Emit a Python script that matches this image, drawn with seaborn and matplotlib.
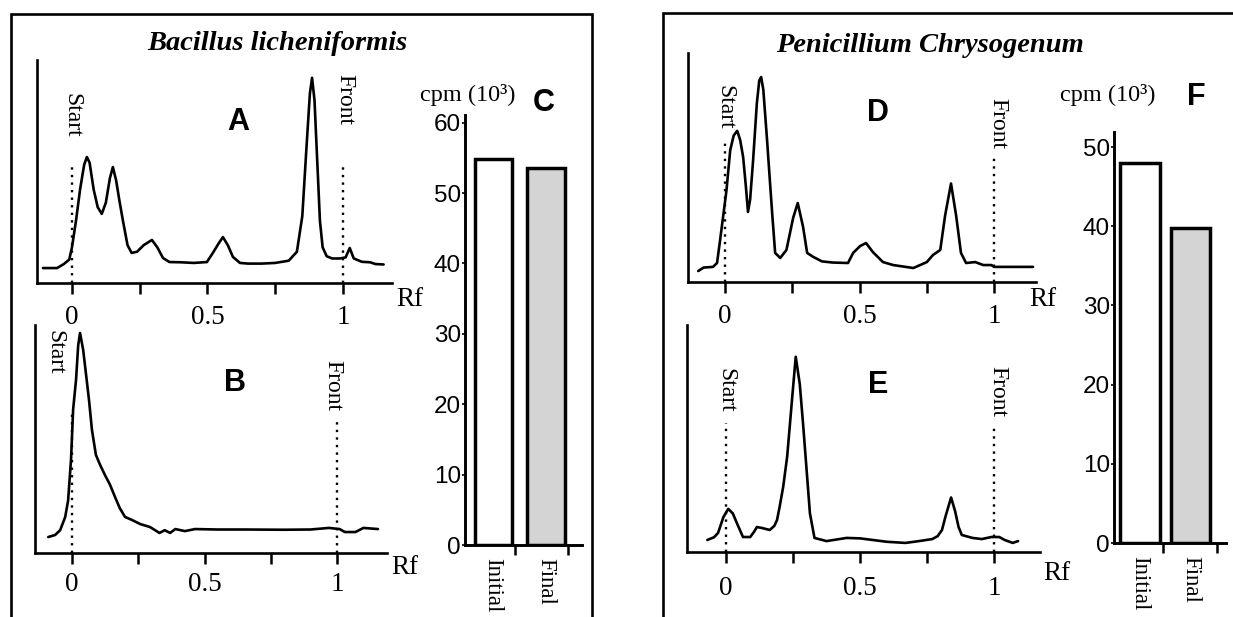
import numpy as np
import pandas as pd
import matplotlib
matplotlib.use("Agg")
import matplotlib.pyplot as plt
from matplotlib.patches import Rectangle
import seaborn as sns

# %% data (Rf vs relative counts, 0-100 per panel)
rf_a = [-0.107, -0.055, -0.03, -0.01, 0.0, 0.015, 0.03, 0.045, 0.055, 0.065, 0.08, 0.095, 0.11,
        0.125, 0.14, 0.151, 0.163, 0.175, 0.188, 0.205, 0.22, 0.24, 0.265, 0.295, 0.315, 0.336,
        0.36, 0.4, 0.45, 0.498, 0.52, 0.54, 0.557, 0.575, 0.594, 0.62, 0.65, 0.7, 0.75, 0.8,
        0.83, 0.85, 0.865, 0.878, 0.886, 0.895, 0.905, 0.915, 0.925, 0.94, 0.96, 0.99, 1.01,
        1.025, 1.04, 1.07, 1.1, 1.12, 1.15]
cnt_a = [6.7, 6.7, 8.5, 10.5, 16, 28, 42, 53, 56.5, 54, 42, 34, 31,
         36, 47, 52, 46, 37, 28, 17, 13.5, 14, 17, 19.3, 16, 11.2,
         9.4, 9.3, 9.0, 9.4, 13.5, 17.5, 20.6, 17, 11.7, 9.0, 8.7, 8.7, 9.0, 10,
         14, 30, 60, 85, 92, 82, 55, 28, 16, 12, 11, 11, 11.5,
         15.7, 11, 9.5, 9.3, 8.5, 8.3]

rf_b = [-0.09, -0.064, -0.045, -0.026, -0.015, -0.004, 0.004, 0.015, 0.023, 0.03, 0.042, 0.053,
        0.064, 0.075, 0.09, 0.106, 0.125, 0.143, 0.162, 0.18, 0.2, 0.226, 0.257, 0.294, 0.33,
        0.35, 0.37, 0.39, 0.426, 0.464, 0.55, 0.65, 0.8, 0.9, 0.97, 1.01, 1.03, 1.07, 1.1, 1.155]
cnt_b = [7, 7.9, 10, 15.8, 23, 41, 63, 76, 91, 96.5, 89, 78,
         67, 54, 43, 38.6, 34, 30, 24.6, 19.7, 15.8, 14.5, 12.7, 11.4, 8.8,
         10, 8.8, 10.5, 9.6, 10.5, 10.3, 10.3, 10.2, 10.3, 11, 10.5, 9.2, 9.2, 11, 10.5]

rf_d = [-0.10, -0.08, -0.045, -0.03, -0.019, -0.008, 0.005, 0.019, 0.032, 0.045, 0.056, 0.067,
        0.077, 0.085, 0.093, 0.104, 0.118, 0.127, 0.134, 0.142, 0.156, 0.166, 0.175, 0.186,
        0.205, 0.228, 0.253, 0.27, 0.29, 0.305, 0.327, 0.36, 0.4, 0.457, 0.476, 0.502, 0.524,
        0.55, 0.587, 0.625, 0.7, 0.75, 0.773, 0.8, 0.818, 0.84, 0.859, 0.877, 0.896, 0.93,
        0.96, 0.99, 1.0, 1.145]
cnt_d = [4.8, 6.3, 6.6, 8.3, 18, 28, 40, 57.6, 64, 66, 62, 54.6,
         42, 30.6, 36, 53, 78, 88, 89.5, 84, 62, 45, 30, 12.7,
         10.5, 14, 28, 34.5, 24, 12.7, 11, 9.0, 8.5, 8.3, 12.7, 15.7, 17,
         13, 8.7, 7.4, 6.1, 8.7, 11.8, 14, 29, 43, 29, 12.7, 8.3, 8.7,
         7.4, 7.4, 6.6, 6.6]

rf_e = [-0.07, -0.045, -0.03, -0.01, 0.008, 0.025, 0.04, 0.063, 0.09, 0.105, 0.115, 0.133,
        0.163, 0.18, 0.19, 0.2, 0.213, 0.228, 0.246, 0.26, 0.275, 0.287, 0.3, 0.313, 0.33,
        0.375, 0.45, 0.5, 0.547, 0.6, 0.67, 0.72, 0.77, 0.79, 0.806, 0.82, 0.84, 0.855,
        0.868, 0.88, 0.92, 0.955, 0.99, 1.02, 1.04, 1.07, 1.09]
cnt_e = [5.3, 6.5, 8.4, 15.4, 19, 17, 12.8, 6.6, 6.6, 9, 11, 10.6,
         9.7, 11.5, 14, 20, 28.6, 42, 67, 86, 74, 57, 37, 17, 6.2,
         4.8, 6.2, 6.0, 5.3, 4.5, 4.0, 4.8, 5.7, 7, 9.7, 16, 24, 18,
         11, 7.5, 6.2, 5.7, 6.6, 6.6, 5.3, 4.0, 4.8]

# Start (Rf=0) / Front (Rf=1) markers and how high their dotted lines reach
marker_rf = [0, 1]
marker_top_a = [52, 52]
marker_top_b = [62.7, 59.6]
marker_top_d = [62, 54.6]
marker_top_e = [56.8, 55]

bar_cats = ["Initial", "Final"]
cpm_bacillus = [54.8, 53.6]
cpm_penicillium = [48.0, 39.8]

rf_ticks = [0, 0.25, 0.5, 0.75, 1]
rf_ticklabels = ["0", "", "0.5", "", "1"]

# %% figure setup
sns.set_style("ticks")
plt.rcParams["font.family"] = ["Liberation Serif", "DejaVu Serif"]
plt.rcParams["text.color"] = "black"
plt.rcParams["xtick.color"] = "black"
plt.rcParams["ytick.color"] = "black"
SERIF = ["Liberation Serif", "DejaVu Serif"]
SANS = ["Liberation Sans", "DejaVu Sans"]

W, H = 1233, 617
fig = plt.figure(figsize=(W / 100, H / 100), dpi=100)


def box(l, t, r, b):
    # pixel box -> figure fraction [left, bottom, width, height]
    return [l / W, 1 - b / H, (r - l) / W, (b - t) / H]


def ftext(x, y, s, **kw):
    fig.text(x / W, 1 - y / H, s, ha="center", va="center", color="black", **kw)


def rf_panel(pos, rf, cnt, xlim, tops, label_pad):
    ax = fig.add_axes(box(*pos))
    ax.set_facecolor("none")  # don't hide the tick labels of the panel above
    sns.lineplot(x=rf, y=cnt, ax=ax, color="black", linewidth=1.9)
    ax.vlines(marker_rf, 0, tops, colors="black", linestyles=(0, (1, 2.2)), linewidth=1.7)
    ax.set_xlim(*xlim)
    ax.set_ylim(0, 100)
    ax.set_yticks([])
    ax.set_xticks(rf_ticks)
    ax.set_xticklabels(rf_ticklabels, fontsize=19.5, family=SERIF, color="black")
    ax.tick_params(axis="x", direction="out", length=8, width=1.8, pad=label_pad, colors="black")
    ax.set_xlabel("")
    ax.set_ylabel("")
    sns.despine(ax=ax)
    for s in ["left", "bottom"]:
        ax.spines[s].set_linewidth(1.9)
        ax.spines[s].set_color("black")
    return ax


def bar_panel(pos, vals, ylim, xlim, bounds, width):
    ax = fig.add_axes(box(*pos))
    ax.set_facecolor("none")
    sns.barplot(x=bar_cats, y=vals, hue=bar_cats, palette=["white", "#d4d4d4"], legend=False,
                edgecolor="black", linewidth=2.5, width=width, ax=ax)
    ax.set_ylim(*ylim)
    ax.set_xlim(*xlim)
    ax.set_yticks([0, 10, 20, 30, 40, 50, 60][: int(ylim[1] // 10) + 1])
    ax.set_yticklabels([str(v) for v in ax.get_yticks().astype(int)], fontsize=17.5,
                       family=SANS, color="black")
    ax.tick_params(axis="y", length=2, width=1.2, pad=1)
    ax.set_xticks([0, 1])
    ax.set_xticklabels(bar_cats, rotation=270, fontsize=16.5, family=SERIF, va="top",
                       ha="center", color="black")
    ax.tick_params(axis="x", length=0, pad=9)
    ax.set_xticks(bounds, minor=True)
    ax.tick_params(axis="x", which="minor", direction="out", length=7, width=1.8)
    ax.set_xlabel("")
    ax.set_ylabel("")
    sns.despine(ax=ax)
    for s in ["left", "bottom"]:
        ax.spines[s].set_linewidth(2.1)
        ax.spines[s].set_color("black")
    return ax


# %% left block: Bacillus licheniformis
rf_panel((37, 60, 392, 283), rf_a, cnt_a, (-0.129, 1.181), marker_top_a, 8)
rf_panel((35, 325, 387, 553), rf_b, cnt_b, (-0.14, 1.189), marker_top_b, 6)
bar_panel((465, 115, 582, 545), cpm_bacillus, (0, 61.1), (-0.53, 1.68), [0.415, 1.415], 0.70)

ftext(277, 43, "Bacillus licheniformis", fontsize=20.5, style="italic", weight="bold", family=SERIF)
ftext(72, 115, "Start", rotation=270, fontsize=17, family=SERIF)
ftext(345, 100, "Front", rotation=270, fontsize=17, family=SERIF)
ftext(238, 122, "A", fontsize=22, weight="bold", family=SANS)
ftext(410, 300, "Rf", fontsize=19.5, family=SERIF)
ftext(55, 352, "Start", rotation=270, fontsize=17, family=SERIF)
ftext(333, 385, "Front", rotation=270, fontsize=17, family=SERIF)
ftext(235, 383, "B", fontsize=22, weight="bold", family=SANS)
ftext(405, 567, "Rf", fontsize=19.5, family=SERIF)
ftext(468, 95, "cpm (10³)", fontsize=17.5, family=SERIF)
ftext(544, 103, "C", fontsize=22, weight="bold", family=SANS)

# %% right block: Penicillium Chrysogenum
rf_panel((688, 53, 1036, 282), rf_d, cnt_d, (-0.138, 1.156), marker_top_d, 8)
rf_panel((687, 325, 1040, 552), rf_e, cnt_e, (-0.146, 1.172), marker_top_e, 9)
bar_panel((1114, 132, 1226, 543), cpm_penicillium, (0, 51.9), (-0.51, 1.70), [0.455, 1.52], 0.78)

ftext(930, 45, "Penicillium Chrysogenum", fontsize=20.5, style="italic", weight="bold", family=SERIF)
ftext(725, 107, "Start", rotation=270, fontsize=17, family=SERIF)
ftext(998, 124, "Front", rotation=270, fontsize=17, family=SERIF)
ftext(878, 113, "D", fontsize=22, weight="bold", family=SANS)
ftext(1043, 300, "Rf", fontsize=19.5, family=SERIF)
ftext(726, 390, "Start", rotation=270, fontsize=17, family=SERIF)
ftext(998, 392, "Front", rotation=270, fontsize=17, family=SERIF)
ftext(878, 385, "E", fontsize=22, weight="bold", family=SANS)
ftext(1057, 573, "Rf", fontsize=19.5, family=SERIF)
ftext(1108, 95, "cpm (10³)", fontsize=17.5, family=SERIF)
ftext(1196, 97, "F", fontsize=22, weight="bold", family=SANS)

# frames around the two blocks (bottom / right run off the page like the scan)
for l, t, r, b in [(11, 14, 592, 660), (663, 13, 1260, 660)]:
    fig.add_artist(Rectangle((l / W, 1 - b / H), (r - l) / W, (b - t) / H,
                             transform=fig.transFigure, fill=False, edgecolor="black",
                             linewidth=1.9, clip_on=False))

fig.savefig("out.png", dpi=100)
